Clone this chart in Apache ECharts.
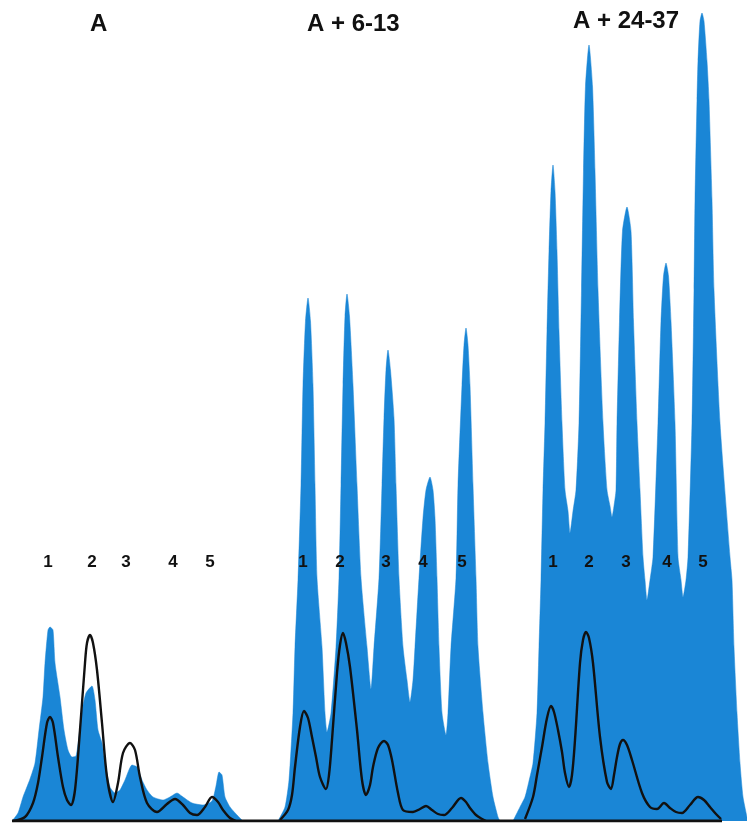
<!DOCTYPE html>
<html>
<head>
<meta charset="utf-8">
<script src="https://cdn.jsdelivr.net/npm/echarts@6/dist/echarts.min.js"></script>
<style>
html,body{margin:0;padding:0;background:#fff;}
#chart{width:747px;height:823px;}
</style>
</head>
<body>
<div id="chart"></div>
<script>
// Panel titles
const panelTitles = ['A', 'A + 6-13', 'A + 24-37'];
const peakNames = ['1', '2', '3', '4', '5'];

// Panel A — blue trace (x = retention position, y = detector response)
const blueA_x = [12,18,23,30,35,39,43,45,48,50,53,55,60,64,68,72,76,79,82,86,92,95,98,102,105,110,115,120,125,132,137,142,147,153,163,170,177,183,192,203,212,216,219,222,225,230,237,243];
const blueA_y = [0,8,24,42,58,91,124,158,191,194,191,158,124,91,71,64,65,85,110,128,135,121,91,78,58,34,28,31,41,56,54,41,31,24,21,24,28,24,18,16,20,35,49,46,24,14,6,0];
// Panel A — black trace
const lineA_x = [13,25,33,38,42,47,50,53,58,63,67,71,75,80,85,87,90,93,97,102,107,113,118,123,130,135,140,147,157,167,175,183,190,197,205,212,218,223,230,236];
const lineA_y = [0,4,18,38,64,98,104,98,64,34,21,16,31,91,158,178,186,178,151,98,44,19,38,68,78,71,44,18,9,17,22,16,8,6,14,24,19,11,3,0];

// Panel A + 6-13 — blue trace
const blueB_x = [278,285,289,293,295,298,301,303,305.5,308,310.5,313,315,317,322,325,327,331,336,339,341,343,345,347,349.5,353,357,361,367,371,374,379,382,384,386,388,390.5,394,396,399,403,407,410,413,415,419,423,426,430,433,435,437,439,442,446,448,451,456,458,462,464,466,468,470,473,476,478,483,488,493,498,500];
const blueB_y = [0,14,41,108,174,241,336,436,500,523,500,436,336,243,174,108,89,108,174,243,336,436,505,527,505,436,336,243,174,132,174,243,336,403,451,471,451,403,336,243,174,141,119,141,174,243,303,331,344,331,303,243,174,108,86,108,174,243,336,436,476,493,476,436,336,243,174,108,58,24,4,0];
// Panel A + 6-13 — black trace
const lineB_x = [280,288,292,295,300,304,308,312,316,320,326,329,332,337,340,343,346,350,357,362,366,370,373,378,384,388,392,398,403,413,420,426,432,438,444,452,461,466,470,476,482,486];
const lineB_y = [1,11,26,54,94,110,103,84,64,44,32,46,81,148,176,188,178,154,91,41,26,36,54,73,80,76,61,28,11,9,12,15,11,7,6,13,23,19,13,6,2,0];

// Panel A + 24-37 — blue trace
const blueC_x = [513,520,525,529,533,537,539,541,543,545,547,549,551,553,555,557,559,562,565,568,570,573,576,579,581.5,583.5,585.5,589,592.5,595,598,603,607,610,612,614,616,617,619.5,622.5,627,631,633.5,637,640,643,645,647,650,653,658,661,663.5,666,668.5,671,675,678,681,683,686,688,692,694,695,697,698,700,702,704,707,709,712,714,720,730,732,734,737,740,743,747];
const blueC_y = [0,14,24,40,58,108,174,241,331,398,490,570,630,656,630,570,490,398,331,310,288,310,331,398,531,650,735,776,735,650,531,398,331,315,304,315,331,398,500,590,614,590,500,398,331,264,241,221,241,264,398,500,545,558,545,500,398,264,241,224,241,264,398,531,621,721,760,800,808,800,760,721,621,531,398,264,241,174,108,58,24,4];
// Panel A + 24-37 — black trace
const lineC_x = [525,533,537,542,547,551,554,558,562,565,569,572,575,580,583,586,589,593,600,607,611,614,617,620,623,627,632,642,650,657,664,670,676,682,690,698,704,710,716,721];
const lineC_y = [2,24,46,74,103,115,109,91,69,48,34,46,81,158,181,189,183,158,84,39,32,46,64,77,81,76,61,28,14,12,18,13,9,8,16,24,21,14,7,2];

// Peak-number label positions (x) per panel and their common height
const peakLabelA_x = [48, 92, 126, 173, 210];
const peakLabelB_x = [303, 340, 386, 423, 462];
const peakLabelC_x = [553, 589, 626, 667, 703];
const peakLabel_y = 259;

// Baseline extent
const baseline_x = [12, 722];

const zip = (xs, ys) => xs.map((x, i) => [x, ys[i]]);
const BLUE = '#1a86d6';
const FONT = '"Liberation Sans", Arial, Helvetica, sans-serif';

function blueSeries(xs, ys) {
  return {
    type: 'line', data: zip(xs, ys), smooth: 0.2, symbol: 'none',
    lineStyle: { width: 0.5, color: BLUE }, areaStyle: { color: BLUE, opacity: 1 },
    z: 1, silent: true
  };
}
function blackSeries(xs, ys) {
  return {
    type: 'line', data: zip(xs, ys), smooth: 0.3, symbol: 'none',
    lineStyle: { width: 2.4, color: '#111' }, z: 3, silent: true
  };
}
function labelSeries(xs) {
  return {
    type: 'scatter', symbolSize: 1, z: 5, silent: true,
    itemStyle: { opacity: 0 },
    data: xs.map((x, i) => ({ value: [x, peakLabel_y], name: peakNames[i] })),
    label: { show: true, position: 'inside', formatter: p => p.name, opacity: 1,
      color: '#111', fontSize: 17, fontWeight: 'bold', fontFamily: FONT }
  };
}

const chart = echarts.init(document.getElementById('chart'), null, { renderer: 'canvas' });
chart.setOption({
  animation: false,
  backgroundColor: '#ffffff',
  grid: { left: 0, right: 0, top: 0, bottom: 2 },
  xAxis: { type: 'value', min: 0, max: 747, show: false },
  yAxis: { type: 'value', min: 0, max: 821, show: false },
  graphic: [
    { type: 'text', left: 90, top: 12, z: 10, style: { text: panelTitles[0], font: 'bold 24px ' + FONT, fill: '#111' } },
    { type: 'text', left: 307, top: 12, z: 10, style: { text: panelTitles[1], font: 'bold 24px ' + FONT, fill: '#111' } },
    { type: 'text', left: 573, top: 9, z: 10, style: { text: panelTitles[2], font: 'bold 24px ' + FONT, fill: '#111' } }
  ],
  series: [
    blueSeries(blueA_x, blueA_y),
    blueSeries(blueB_x, blueB_y),
    blueSeries(blueC_x, blueC_y),
    blackSeries(lineA_x, lineA_y),
    blackSeries(lineB_x, lineB_y),
    blackSeries(lineC_x, lineC_y),
    { type: 'line', data: [[baseline_x[0], 0], [baseline_x[1], 0]], symbol: 'none',
      lineStyle: { width: 3, color: '#111' }, z: 4, silent: true },
    labelSeries(peakLabelA_x),
    labelSeries(peakLabelB_x),
    labelSeries(peakLabelC_x)
  ]
});
</script>
</body>
</html>
